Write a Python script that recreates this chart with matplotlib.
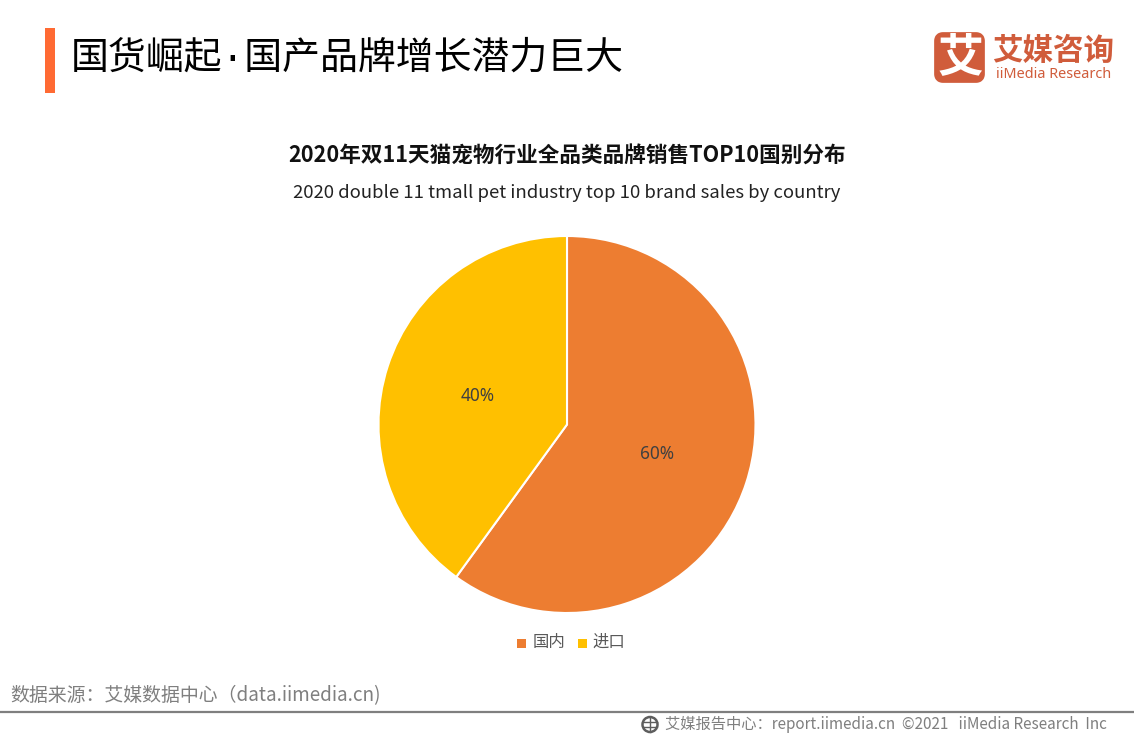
import matplotlib
matplotlib.use("Agg")
import matplotlib.pyplot as plt
from matplotlib.patches import Rectangle, FancyBboxPatch, Circle

plt.rcParams['font.family'] = ['Noto Sans CJK SC', 'DejaVu Sans']

categories = ['国内', '进口']
values = [60, 40]
colors = ['#ED7D31', '#FFC000']
title = '国货崛起·国产品牌增长潜力巨大'
chart_title = '2020年双11天猫宠物行业全品类品牌销售TOP10国别分布'
chart_subtitle = '2020 double 11 tmall pet industry top 10 brand sales by country'
source = '数据来源：艾媒数据中心（data.iimedia.cn)'
footer = '艾媒报告中心：report.iimedia.cn  ©2021   iiMedia Research  Inc'

W, H = 1134, 737
fig = plt.figure(figsize=(W / 100, H / 100), dpi=100, facecolor='white')

bg = fig.add_axes([0, 0, 1, 1])
bg.set_xlim(0, W)
bg.set_ylim(H, 0)
bg.axis('off')

# Header
bg.add_patch(Rectangle((45, 28), 10, 65, color='#FF6A33', lw=0))
bg.text(71, 59, title, fontsize=27.3, color='#000000', va='center', ha='left', weight='medium',
        family=['Liberation Mono', 'Noto Sans CJK SC'])

# Logo
bg.add_patch(FancyBboxPatch((939, 37), 41, 41, boxstyle='round,pad=0,rounding_size=4',
                            fc='#D05C3B', ec='#D05C3B', lw=7, joinstyle='round', mutation_aspect=1))
bg.text(960, 58, '艾', fontsize=33, color='white', weight='bold', ha='center', va='center')
bg.text(1053, 51, '艾媒咨询', fontsize=22, color='#D05C3B', weight='bold', ha='center', va='center')
bg.text(1053.5, 74, 'iiMedia Research', fontsize=10.4, color='#D05C3B', ha='center', va='center',
        family=['Noto Sans', 'DejaVu Sans'], weight='medium')

# Chart titles
bg.text(567, 156.5, chart_title, fontsize=15.55, weight='bold', color='#111111', ha='center', va='center')
bg.text(567, 192.5, chart_subtitle, fontsize=13.33, color='#222222', ha='center', va='center')

# Pie
R = 188.5
cx, cy = 567, 424.5
pad = 1
ax = fig.add_axes([(cx - R - pad) / W, 1 - (cy + R + pad) / H, (2 * R + 2 * pad) / W, (2 * R + 2 * pad) / H])
lim = (R + pad) / R
wedges, _ = ax.pie(values, colors=colors, startangle=90, counterclock=False, radius=1,
                   wedgeprops=dict(edgecolor='white', linewidth=1.5))
ax.set_xlim(-lim, lim)
ax.set_ylim(-lim, lim)
ax.set_aspect('equal')
ax.patch.set_alpha(0)

# Value labels, placed through the pie's own data coordinates
for v, (lx, ly) in zip(values, [(0.478, -0.157), (-0.472, 0.152)]):
    ax.text(lx, ly, f'{v}%', fontsize=12.4, color='#404040', ha='center', va='center',
            family=['Noto Sans', 'DejaVu Sans'])

# Legend
for name, col, sx, tx in zip(categories, colors, [517, 578], [548.5, 608.5]):
    bg.add_patch(Rectangle((sx, 639), 9, 9, color=col, lw=0))
    bg.text(tx, 642.5, name, fontsize=11.8, color='#595959', ha='center', va='center')

# Source and footer
bg.text(10, 695.5, source, fontsize=13.6, weight='medium', color='#7F7F7F', ha='left', va='center')
bg.plot([0, W], [712, 712], color='#7F7F7F', lw=1.6, solid_capstyle='butt')
bg.add_patch(Circle((650, 724.5), 7.5, fc='white', ec='#5E5E5E', lw=1.8))
bg.plot([643, 657], [722, 722], color='#5E5E5E', lw=1)
bg.plot([643, 657], [727, 727], color='#5E5E5E', lw=1)
bg.plot([650, 650], [717, 732], color='#5E5E5E', lw=1)
bg.text(665, 724.5, footer, fontsize=11, weight='medium', color='#7F7F7F', ha='left', va='center')

fig.savefig('out.png', dpi=100, facecolor='white')
